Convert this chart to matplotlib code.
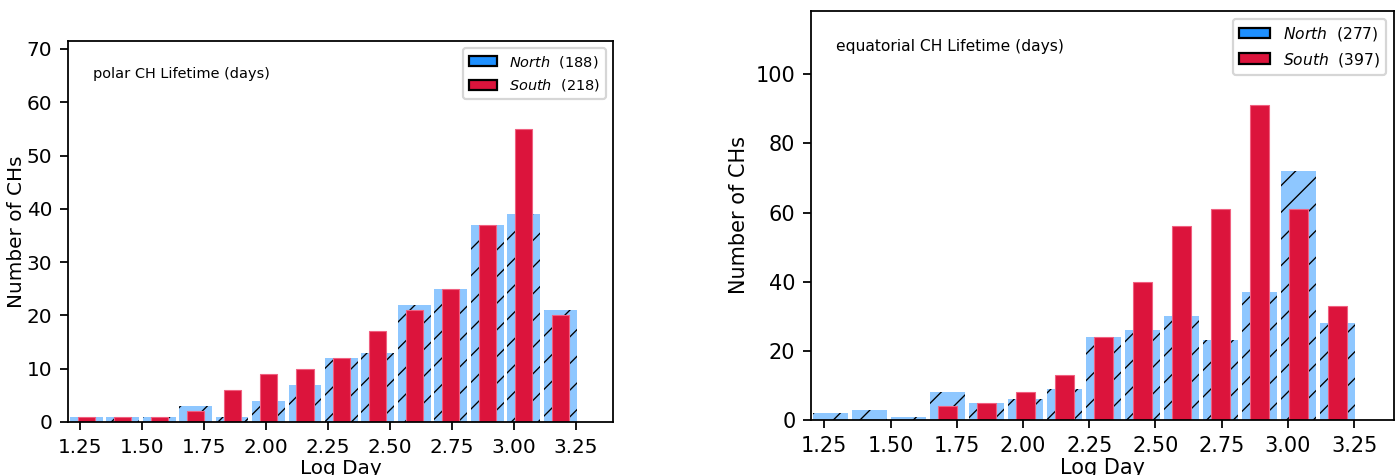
import matplotlib.pyplot as plt
import numpy as np
from matplotlib.patches import Patch

# log10(lifetime in days) bins
edges = np.linspace(1.2, 3.26, 15)

polar_north = [1, 1, 1, 3, 1, 4, 7, 12, 13, 22, 25, 37, 39, 21]
polar_south = [1, 1, 1, 2, 6, 9, 10, 12, 17, 21, 25, 37, 55, 20]
eq_north = [2, 3, 1, 8, 5, 6, 9, 24, 26, 30, 23, 37, 72, 28]
eq_south = [0, 0, 0, 4, 5, 8, 13, 24, 40, 56, 61, 91, 61, 33]

polar_counts = [188, 218]
eq_counts = [277, 397]

plt.rcParams['hatch.linewidth'] = 0.6

fig = plt.figure(figsize=(8.75, 2.96875), dpi=160)
ax1 = fig.add_axes([0.0486, 0.1116, 0.3893, 0.8021])
ax2 = fig.add_axes([0.5793, 0.1158, 0.4164, 0.8611])


def draw(ax, north, south, counts, title, ystep, tx, ty, fs, small, ypad):
    centers = (edges[:-1] + edges[1:]) / 2
    ax.hist(centers, bins=edges, weights=north, rwidth=0.9, color='#8ec7ff',
            edgecolor='k', linewidth=0, hatch='//')
    ax.hist(centers, bins=edges, weights=south, rwidth=0.47, color='crimson',
            edgecolor='#f06080', linewidth=0.5)
    top = 1.3 * max(max(north), max(south))
    ax.set_ylim(0, top)
    ax.set_xlim(1.2, 3.4)
    ax.set_xticks(np.arange(1.25, 3.26, 0.25))
    ax.set_yticks(np.arange(0, top, ystep))
    ax.tick_params(labelsize=fs)
    ax.set_xlabel('Log Day', fontsize=fs, labelpad=1)
    ax.set_ylabel('Number of CHs', fontsize=fs, labelpad=ypad)
    ax.text(tx, ty, title, transform=ax.transAxes, fontsize=small, va='center')
    handles = [Patch(facecolor='dodgerblue', edgecolor='k'),
               Patch(facecolor='crimson', edgecolor='k')]
    labels = [r'$\it{North}$  (%d)' % counts[0], r'$\it{South}$  (%d)' % counts[1]]
    ax.legend(handles, labels, loc='upper right', fontsize=small)


draw(ax1, polar_north, polar_south, polar_counts, 'polar CH Lifetime (days)',
     10, 0.046, 0.913, 9, 6.5, 0.5)
draw(ax2, eq_north, eq_south, eq_counts, 'equatorial CH Lifetime (days)',
     20, 0.043, 0.914, 9.4, 7, 3)

plt.savefig('out.png', dpi=160)
